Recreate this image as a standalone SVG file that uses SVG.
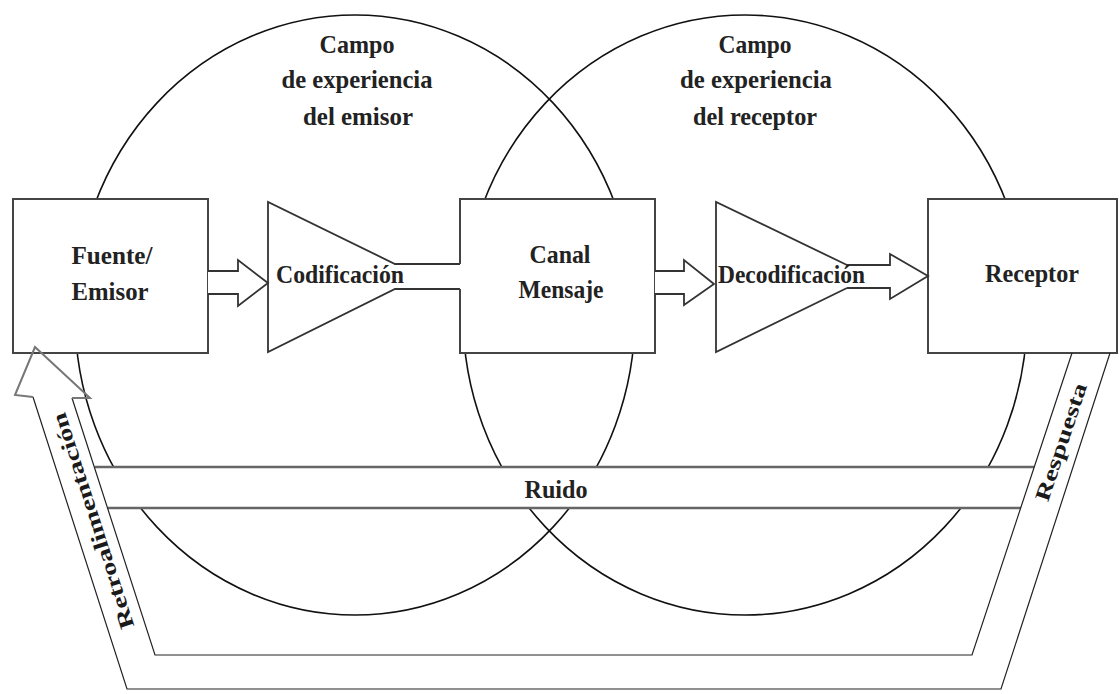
<svg xmlns="http://www.w3.org/2000/svg" width="1120" height="694" viewBox="0 0 1120 694">
  <style>
    .field { fill: none; stroke: #111; stroke-width: 1.6; }
    .box { fill: #fff; stroke: #444; stroke-width: 2; }
    .block { fill: #fff; stroke: #333; stroke-width: 1.8; stroke-linejoin: miter; }
    .band { fill: none; stroke: #222; stroke-width: 1.2; }
    .noise { stroke: #666; stroke-width: 2.5; }
    text { font-family: "Liberation Serif", "Times New Roman", serif; }
    .lbl { font-size: 26px; font-weight: bold; fill: #222; }
    .mid { text-anchor: middle; }
    .rot { font-size: 21px; font-weight: bold; fill: #1a1a1a; text-anchor: middle; }
  </style>

  <rect width="1120" height="694" fill="#fff"/>

  <!-- fields of experience -->
  <g id="campo-emisor">
    <ellipse class="field" cx="355" cy="315" rx="280" ry="300"/>
    <text class="lbl mid" x="357" y="53" textLength="75" lengthAdjust="spacingAndGlyphs">Campo</text>
    <text class="lbl mid" x="357" y="88" textLength="151" lengthAdjust="spacingAndGlyphs">de experiencia</text>
    <text class="lbl mid" x="358" y="125" textLength="110" lengthAdjust="spacingAndGlyphs">del emisor</text>
  </g>
  <g id="campo-receptor">
    <ellipse class="field" cx="745" cy="315" rx="282" ry="300"/>
    <text class="lbl mid" x="755" y="53" textLength="73" lengthAdjust="spacingAndGlyphs">Campo</text>
    <text class="lbl mid" x="756" y="88" textLength="152" lengthAdjust="spacingAndGlyphs">de experiencia</text>
    <text class="lbl mid" x="755" y="125" textLength="124" lengthAdjust="spacingAndGlyphs">del receptor</text>
  </g>

  <!-- noise band -->
  <g id="ruido">
    <polygon points="97,467 1034,467 1021,508 110,508" fill="#fff"/>
    <line class="noise" x1="95" y1="467" x2="1034" y2="467"/>
    <line class="noise" x1="108" y1="508" x2="1021" y2="508"/>
    <text class="lbl mid" x="556" y="498" textLength="63" lengthAdjust="spacingAndGlyphs">Ruido</text>
  </g>

  <!-- nodes -->
  <g id="fuente">
    <rect class="box" x="13" y="199" width="195" height="154"/>
    <text class="lbl mid" x="112" y="264" textLength="81" lengthAdjust="spacingAndGlyphs">Fuente/</text>
    <text class="lbl mid" x="110" y="300" textLength="77" lengthAdjust="spacingAndGlyphs">Emisor</text>
  </g>

  <g id="codificacion">
    <path class="block" d="M460,264 H395 L268,202 V352 L395,289 H460"/>
  </g>

  <g id="canal">
    <path class="box" d="M460,264 V199 H655 V353 H460 V289"/>
    <text class="lbl mid" x="560" y="263" textLength="61" lengthAdjust="spacingAndGlyphs">Canal</text>
    <text class="lbl mid" x="561" y="298" textLength="85" lengthAdjust="spacingAndGlyphs">Mensaje</text>
  </g>

  <g id="decodificacion">
    <path class="block" d="M847,265 L716,202 V352 L847,288"/>
  </g>

  <g id="receptor">
    <rect class="box" x="928" y="199" width="189" height="154"/>
    <text class="lbl mid" x="1032" y="282" textLength="94" lengthAdjust="spacingAndGlyphs">Receptor</text>
  </g>

  <!-- connectors -->
  <g id="connectors">
    <path class="block" d="M208,271 H238 V260 L268,283 L238,306 V294 H208"/>
    <path class="block" d="M655,271 H684 V260 L714,284 L684,305 V294 H655"/>
    <path class="block" d="M847,265 H890 V254 L928,276 L890,299 V288 H847"/>

    <!-- feedback / response loop -->
    <path class="band" d="M33,397 L127,689 L1001,689 L1110,353"/>
    <path class="band" d="M72,398 L155,655 L972,655 L1072,353"/>
    <path d="M33,397 L15,395 L35,347 L90,398 L72,398" fill="none" stroke="#777" stroke-width="2" stroke-linejoin="miter"/>

    <text class="rot" transform="translate(93,521) rotate(-108)" y="7" textLength="226" lengthAdjust="spacingAndGlyphs">Retroalimentación</text>
    <text class="rot" transform="translate(1061,442) rotate(-71.5)" y="7" textLength="123" lengthAdjust="spacingAndGlyphs">Respuesta</text>
  </g>

  <!-- labels drawn over the blocks -->
  <text class="lbl" x="276" y="283" textLength="128" lengthAdjust="spacingAndGlyphs">Codificación</text>
  <text class="lbl" x="718" y="283" textLength="147" lengthAdjust="spacingAndGlyphs">Decodificación</text>
</svg>
